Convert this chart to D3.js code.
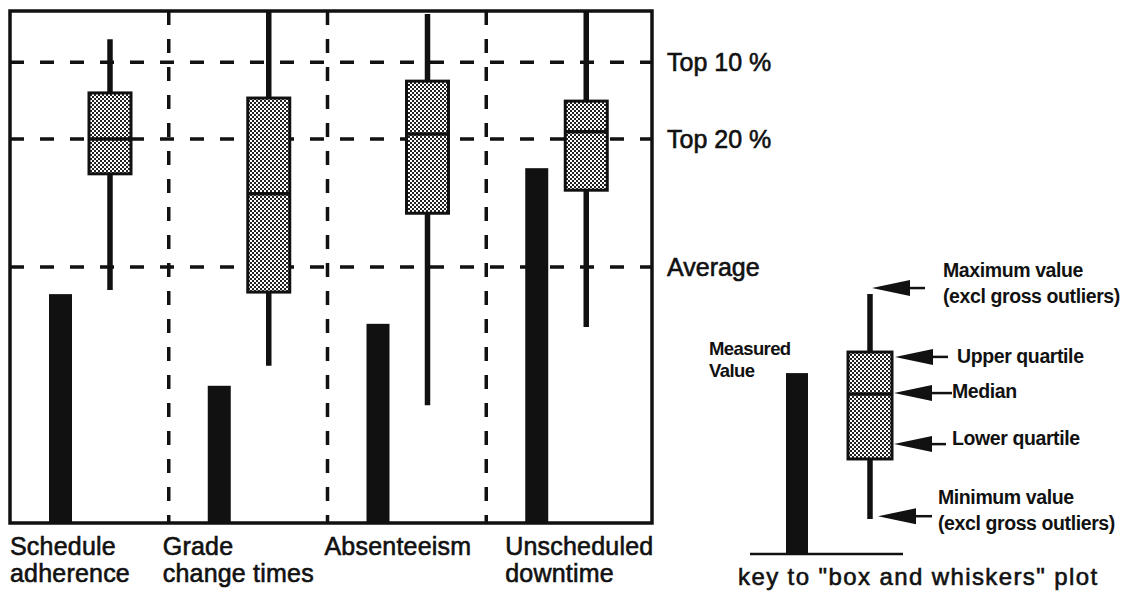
<!DOCTYPE html>
<html>
<head>
<meta charset="utf-8">
<script src="https://cdn.jsdelivr.net/npm/d3@7"></script>
<style>
  body { margin: 0; background: #fff; }
  svg { display: block; }
  text { font-family: "Liberation Sans", Arial, Helvetica, sans-serif; fill: #111; }
  .heavy { stroke: #111; stroke-width: 0.6; }
</style>
</head>
<body>
<div id="chart"></div>
<script>
// Categories (one entry per label line)
const categories = ["Schedule adherence", "Grade change times", "Absenteeism", "Unscheduled downtime"];
const categoryLines = [["Schedule", "adherence"], ["Grade", "change times"], ["Absenteeism"], ["Unscheduled", "downtime"]];

// Values on a 0-100 performance scale (Average = 50)
const measured      = [44.7, 26.8, 38.9, 69.3];
const whiskerMin    = [45.5, 30.7, 23.0, 38.3];
const lowerQuartile = [68.2, 45.1, 60.5, 65.0];
const median        = [75.0, 64.3, 76.0, 76.4];
const upperQuartile = [84.0, 83.0, 86.3, 82.4];
const whiskerMax    = [94.5, 100, 99.4, 99.8];

// Reference levels
const refLabels = ["Top 10 %", "Top 20 %", "Average"];
const refValues = [90, 75, 50];

// Key example values
const keyMeasured = 67;
const keyStats = { min: 13, q1: 35.2, med: 59.3, q3: 74.8, max: 96.3 };
const keyArrowLabels = [["Maximum value", "(excl gross outliers)"], ["Upper quartile"], ["Median"], ["Lower quartile"], ["Minimum value", "(excl gross outliers)"]];
const keyArrowValues = [98.5, 73, 59.6, 40.7, 14];

const W = 1121, H = 599;
const frame = { left: 10, right: 652, top: 11, bottom: 523 };

const svg = d3.select("#chart").append("svg")
  .attr("width", W).attr("height", H);

// stippled fill for boxes
const defs = svg.append("defs");
const pat = defs.append("pattern")
  .attr("id", "stipple")
  .attr("patternUnits", "userSpaceOnUse")
  .attr("width", 4).attr("height", 4);
pat.append("rect").attr("width", 4).attr("height", 4).attr("fill", "#fff");
pat.append("rect").attr("x", 0).attr("y", 0).attr("width", 2).attr("height", 2).attr("fill", "#222");
pat.append("rect").attr("x", 2).attr("y", 2).attr("width", 2).attr("height", 2).attr("fill", "#222");

const x = d3.scaleBand().domain(categories).range([frame.left, 645]);
const y = d3.scaleLinear().domain([0, 100]).range([frame.bottom, frame.top]);

const g = svg.append("g");

// dashed reference lines
g.selectAll(".ref")
  .data(refValues)
  .enter().append("line")
  .attr("x1", frame.left).attr("x2", frame.right)
  .attr("y1", d => y(d)).attr("y2", d => y(d))
  .attr("stroke", "#111").attr("stroke-width", 3.5)
  .attr("stroke-dasharray", "14,16");

// dashed panel dividers
g.selectAll(".divider")
  .data(categories.slice(1))
  .enter().append("line")
  .attr("x1", d => x(d)).attr("x2", d => x(d))
  .attr("y1", frame.top).attr("y2", frame.bottom)
  .attr("stroke", "#111").attr("stroke-width", 3.5)
  .attr("stroke-dasharray", "14,14");

// measured value bars
const barOffset = 39, barWidth = 23;
g.selectAll(".bar")
  .data(categories)
  .enter().append("rect")
  .attr("x", d => x(d) + barOffset)
  .attr("y", (d, i) => y(measured[i]))
  .attr("width", barWidth)
  .attr("height", (d, i) => y(0) - y(measured[i]))
  .attr("fill", "#111");

// box and whiskers
const boxOffset = 79, boxWidth = 42;
const bw = g.selectAll(".bw")
  .data(categories)
  .enter().append("g");

bw.append("line")
  .attr("x1", d => x(d) + boxOffset + boxWidth / 2)
  .attr("x2", d => x(d) + boxOffset + boxWidth / 2)
  .attr("y1", (d, i) => y(whiskerMax[i]))
  .attr("y2", (d, i) => y(whiskerMin[i]))
  .attr("stroke", "#111").attr("stroke-width", 5.5);

bw.append("rect")
  .attr("x", d => x(d) + boxOffset)
  .attr("y", (d, i) => y(upperQuartile[i]))
  .attr("width", boxWidth)
  .attr("height", (d, i) => y(lowerQuartile[i]) - y(upperQuartile[i]))
  .attr("fill", "url(#stipple)")
  .attr("stroke", "#111").attr("stroke-width", 3);

bw.append("line")
  .attr("x1", d => x(d) + boxOffset)
  .attr("x2", d => x(d) + boxOffset + boxWidth)
  .attr("y1", (d, i) => y(median[i]))
  .attr("y2", (d, i) => y(median[i]))
  .attr("stroke", "#111").attr("stroke-width", 3.5);

// frame
g.append("rect")
  .attr("x", frame.left).attr("y", frame.top)
  .attr("width", frame.right - frame.left)
  .attr("height", frame.bottom - frame.top)
  .attr("fill", "none")
  .attr("stroke", "#111").attr("stroke-width", 3.5);

// category labels
const labelShift = [0, -6, -3, 19];
g.selectAll(".cat")
  .data(categories)
  .enter().append("text")
  .attr("class", "heavy")
  .attr("font-size", 25)
  .attr("letter-spacing", 0.2)
  .each(function (d, i) {
    d3.select(this).selectAll("tspan")
      .data(categoryLines[i])
      .enter().append("tspan")
      .attr("x", x(d) + labelShift[i])
      .attr("y", (t, j) => 555 + j * 27)
      .text(t => t);
  });

// reference labels
g.selectAll(".refLabel")
  .data(refLabels)
  .enter().append("text")
  .attr("class", "heavy")
  .attr("x", 667)
  .attr("y", (d, i) => y(refValues[i]) + 9)
  .attr("font-size", 25)
  .text(d => d);

// ---- key ----
const key = svg.append("g");
const ky = d3.scaleLinear().domain([0, 100]).range([554, 284]);
const kBarX = 786, kBoxX = 848, kBoxW = 44;

key.append("line")
  .attr("x1", 750).attr("x2", 903)
  .attr("y1", ky(0)).attr("y2", ky(0))
  .attr("stroke", "#111").attr("stroke-width", 2.5);

key.append("rect")
  .attr("x", kBarX).attr("y", ky(keyMeasured))
  .attr("width", 22).attr("height", ky(0) - ky(keyMeasured))
  .attr("fill", "#111");

key.append("line")
  .attr("x1", kBoxX + kBoxW / 2).attr("x2", kBoxX + kBoxW / 2)
  .attr("y1", ky(keyStats.max)).attr("y2", ky(keyStats.min))
  .attr("stroke", "#111").attr("stroke-width", 5.5);

key.append("rect")
  .attr("x", kBoxX).attr("y", ky(keyStats.q3))
  .attr("width", kBoxW).attr("height", ky(keyStats.q1) - ky(keyStats.q3))
  .attr("fill", "url(#stipple)")
  .attr("stroke", "#111").attr("stroke-width", 3);

key.append("line")
  .attr("x1", kBoxX).attr("x2", kBoxX + kBoxW)
  .attr("y1", ky(keyStats.med)).attr("y2", ky(keyStats.med))
  .attr("stroke", "#111").attr("stroke-width", 3.5);

key.append("text")
  .attr("font-size", 18.5).attr("font-weight", "bold").attr("letter-spacing", -0.6)
  .selectAll("tspan")
  .data(["Measured", "Value"])
  .enter().append("tspan")
  .attr("x", 709)
  .attr("y", (d, i) => 355 + i * 22)
  .text(d => d);

// arrows: tip x, head base x, tail end x
const arrowTips = [872, 895, 894, 894, 878];
const arrowTails = [925, 948, 952, 946, 932];
const labelPos = [[943, 270], [957, 356], [952, 391], [952, 438], [938, 497]];

keyArrowValues.forEach((v, i) => {
  const ay = ky(v), tip = arrowTips[i], base = tip + 38;
  key.append("path")
    .attr("d", `M${tip},${ay} L${base},${ay - 8} L${base},${ay + 8} Z`)
    .attr("fill", "#111");
  key.append("line")
    .attr("x1", base - 2).attr("x2", arrowTails[i])
    .attr("y1", ay).attr("y2", ay)
    .attr("stroke", "#111").attr("stroke-width", 2.5);
  key.append("text")
    .attr("font-size", 19.5).attr("font-weight", "bold").attr("letter-spacing", -0.4)
    .selectAll("tspan")
    .data(keyArrowLabels[i])
    .enter().append("tspan")
    .attr("x", labelPos[i][0])
    .attr("y", (d, j) => labelPos[i][1] + 7 + j * 26)
    .text(d => d);
});

key.append("text")
  .attr("class", "heavy")
  .attr("x", 738).attr("y", 585)
  .attr("font-size", 24).attr("letter-spacing", 1.4)
  .text('key to "box and whiskers" plot');
</script>
</body>
</html>
